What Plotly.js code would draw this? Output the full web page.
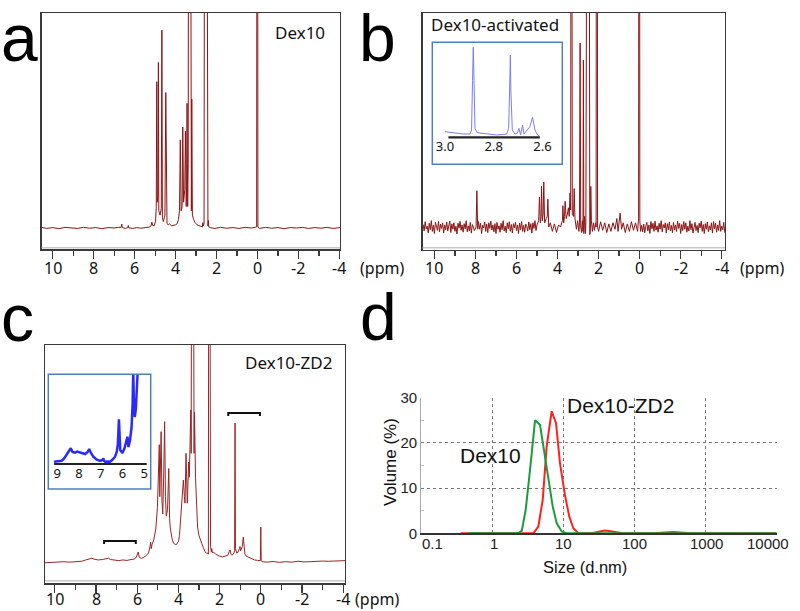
<!DOCTYPE html>
<html><head><meta charset="utf-8">
<script src="https://cdn.plot.ly/plotly-3.0.1.min.js"></script>
<style>html,body{margin:0;padding:0;background:#fff}#chart{width:800px;height:611px}</style>
</head><body><div id="chart"></div>
<script>
// ---------- Panel a : Dex10 1H NMR (ppm, relative intensity) ----------
const ppmA = [
 10.54,10.3,10.0,9.7,9.4,9.1,8.8,8.5,8.2,7.9,7.6,7.3,7.0,6.8,
 6.66,6.63,6.60,6.45,6.33,6.31,6.29,6.1,5.9,5.7,5.5,5.3,5.2,5.16,5.12,5.05,
 4.98,4.945,4.92,4.895,4.86,4.84,4.82,4.76,4.70,4.67,4.645,4.60,4.52,4.48,4.455,4.42,4.36,4.30,4.2,4.1,4.0,3.92,3.86,
 3.81,3.77,3.73,3.68,3.65,3.61,3.55,3.52,3.48,3.46,3.44,3.41,3.385,3.37,3.26,3.245,3.23,3.21,3.18,3.12,3.05,2.95,2.85,2.75,
 2.69,2.67,2.65,2.61,2.59,2.46,2.44,2.42,2.40,2.38,2.3,2.1,1.8,1.5,1.2,0.9,0.6,0.3,0.1,
 0.04,0.03,-0.01,-0.02,-0.1,-0.4,-0.7,-1.0,-1.3,-1.6,-1.9,-2.2,-2.5,-2.8,-3.1,-3.4,-3.7,-4.03
];
const intA = [
 0.003,-0.002,0.002,-0.003,0.003,0.0,-0.002,0.003,-0.001,0.002,-0.003,0.002,0.0,0.003,
 0.003,0.018,0.002,-0.002,0.002,0.012,0.001,-0.002,0.002,-0.001,0.003,0.004,0.01,0.027,0.012,0.01,
 0.03,0.10,0.68,0.12,0.15,0.77,0.08,0.06,0.09,0.92,0.05,0.03,0.06,0.63,0.04,0.02,0.015,0.02,0.01,0.012,0.015,0.02,0.04,
 0.08,0.41,0.08,0.10,0.47,0.12,0.18,0.45,0.10,0.20,0.58,0.10,0.30,1.6,1.6,0.25,0.08,0.60,0.06,0.04,0.025,0.015,0.01,0.008,
 0.005,0.025,0.01,0.02,1.6,1.6,0.02,0.01,0.035,0.005,0.002,-0.002,0.003,-0.001,0.002,-0.002,0.003,0.0,0.004,
 0.005,1.6,1.6,0.005,-0.002,0.003,-0.001,0.002,-0.003,0.002,0.0,0.003,-0.002,0.002,-0.001,0.003,-0.002,0.002
];

// ---------- Panel b : Dex10-activated (noisy baseline segments + peak region) ----------
const bLeftPpm = [
 10.55,10.50,10.45,10.40,10.35,10.30,10.25,10.20,10.15,10.10,
 10.05,10.00,9.95,9.90,9.85,9.80,9.75,9.70,9.65,9.60,
 9.55,9.50,9.45,9.40,9.35,9.30,9.25,9.20,9.15,9.10,
 9.05,9.00,8.95,8.90,8.85,8.80,8.75,8.70,8.65,8.60,
 8.55,8.50,8.45,8.40,8.35,8.30,8.25,8.20,8.15,8.10,
 8.05
];
const bLeftInt = [
 0.012,-0.018,0.025,-0.008,0.004,-0.027,0.018,-0.012,0.03,-0.02,
 0.008,-0.03,0.022,0.002,-0.015,0.026,-0.022,0.014,-0.006,0.02,
 -0.028,0.01,-0.012,0.024,-0.018,0.006,0.028,-0.025,0.015,-0.01,
 0.02,-0.02,0.004,-0.032,0.018,-0.005,0.027,-0.015,0.01,-0.024,
 0.016,-0.008,0.03,-0.022,0.006,-0.018,0.022,-0.028,0.012,0.0,
 -0.016
];
const bPeak8Ppm = [7.97, 7.93, 7.89];
const bPeak8Int = [0.0, 0.17, -0.01];
const bMidPpm = [
 7.85,7.80,7.75,7.70,7.65,7.60,7.55,7.50,7.45,7.40,
 7.35,7.30,7.25,7.20,7.15,7.10,7.05,7.00,6.95,6.90,
 6.85,6.80,6.75,6.70,6.65,6.60,6.55,6.50,6.45,6.40,
 6.35,6.30,6.25,6.20,6.15,6.10,6.05,6.00,5.95,5.90,
 5.85,5.80,5.75,5.70,5.65,5.60,5.55,5.50,5.45,5.40,
 5.35,5.30,5.25,5.20,5.15,5.10,5.05
];
const bMidInt = [
 0.026,-0.01,0.018,-0.03,0.008,-0.004,0.024,-0.02,0.014,
 -0.026,0.02,-0.006,0.028,-0.014,0.01,-0.022,0.016,-0.03,0.022,
 -0.01,0.006,-0.024,0.018,-0.012,0.03,-0.018,0.004,-0.026,0.02,
 -0.008,0.025,-0.02,0.012,-0.028,0.016,-0.004,0.022,-0.016,0.01,
 -0.03,0.018,-0.012,0.026,-0.02,0.008,-0.024,0.014,0.002,-0.018,
 0.024,-0.012,0.016,-0.028,0.02,-0.006,0.03,-0.016
];
const bPeakPpm = [
 5.0,4.92,4.88,4.84,4.80,4.78,4.74,4.70,4.67,4.63,4.55,4.50,4.47,4.43,4.35,4.25,4.15,4.05,3.95,3.85,3.80,
 3.76,3.74,3.70,3.66,3.63,3.58,3.52,3.47,3.43,3.39,3.36,3.345,3.30,3.28,3.22,3.19,3.15,3.08,3.02,2.96,2.93,2.90,2.87,2.83,2.79,2.76,2.74,2.72,2.68,2.64,2.62,2.575,2.45,2.43,2.40,2.38,2.35,2.30,2.25,2.20,2.15,2.12,2.11,2.06,2.05,2.0,1.9,1.8,1.7,1.6,1.5,1.4,1.3,1.2,1.11,1.05,0.95,0.88,0.8,0.7,0.6,0.5,0.4,0.3,0.2,0.1,0.05,0.04,0.0,-0.01,-0.05
];
const bPeakInt = [
 0.01,0.03,0.14,0.02,0.05,0.19,0.03,0.06,0.21,0.02,0.04,0.05,0.13,0.0,0.02,-0.02,0.015,-0.025,0.01,0.0,0.02,
 0.03,0.10,0.02,0.05,0.12,0.04,0.06,0.09,0.05,0.16,0.08,1.6,1.6,0.06,0.05,0.18,0.04,-0.01,0.03,-0.02,0.02,0.86,0.0,-0.025,0.03,-0.02,0.78,-0.03,0.05,-0.03,0.02,1.6,1.6,-0.035,-0.02,0.19,0.03,-0.02,0.02,-0.015,0.02,0.0,1.6,1.6,0.0,-0.02,0.025,-0.015,0.02,-0.025,0.015,-0.02,0.02,-0.01,0.04,-0.02,0.065,-0.01,0.02,-0.025,0.015,-0.02,0.025,-0.015,0.02,-0.02,0.04,1.6,1.6,0.03,-0.02
];
const bRightPpm = [
 -0.10,-0.15,-0.20,-0.25,-0.30,-0.35,-0.40,-0.45,-0.50,-0.55,
 -0.60,-0.65,-0.70,-0.75,-0.80,-0.85,-0.90,-0.95,-1.00,-1.05,
 -1.10,-1.15,-1.20,-1.25,-1.30,-1.35,-1.40,-1.45,-1.50,-1.55,
 -1.60,-1.65,-1.70,-1.75,-1.80,-1.85,-1.90,-1.95,-2.00,-2.05,
 -2.10,-2.15,-2.20,-2.25,-2.30,-2.35,-2.40,-2.45,-2.50,-2.55,
 -2.60,-2.65,-2.70,-2.75,-2.80,-2.85,-2.90,-2.95,-3.00,-3.05,
 -3.10,-3.15,-3.20,-3.25,-3.30,-3.35,-3.40,-3.45,-3.50,-3.55,
 -3.60,-3.65,-3.70,-3.75,-3.80,-3.85,-3.90,-3.95,-4.00,-4.05,
 -4.10,-4.15
];
const bRightInt = [
 0.008,-0.022,
 0.014,-0.026,0.004,0.022,-0.018,0.01,-0.03,0.026,-0.008,0.018,
 -0.02,0.028,-0.014,0.006,-0.024,0.018,-0.01,0.03,-0.022,0.012,
 -0.004,0.02,-0.028,0.016,-0.012,0.024,-0.018,0.008,-0.026,0.022,
 -0.014,0.01,-0.02,0.028,-0.006,0.018,-0.03,0.012,-0.016,0.026,
 -0.01,0.02,-0.024,0.004,-0.018,0.03,-0.012,0.016,-0.028,0.01,
 0.022,-0.016,0.008,-0.026,0.018,-0.004,0.028,-0.02,0.012,-0.03,
 0.016,-0.01,0.024,-0.022,0.006,-0.014,0.02,-0.028,0.026,-0.008,
 0.018,-0.024,0.01,-0.016,0.03,-0.02,0.004,-0.012,0.022,-0.026
];
const ppmB = [].concat(bLeftPpm, bPeak8Ppm, bMidPpm, bPeakPpm, bRightPpm);
const intB = [].concat(bLeftInt, bPeak8Int, bMidInt, bPeakInt, bRightInt);

// ---------- Panel c : Dex10-ZD2 ----------
const ppmC = [
 10.48,10.2,9.9,9.6,9.3,9.0,8.7,8.5,8.3,8.2,8.1,7.9,7.7,7.5,7.4,7.3,7.1,6.9,6.7,6.5,6.3,6.15,6.05,
 6.0,5.95,5.90,5.8,5.6,5.45,5.38,5.35,5.32,5.28,5.2,5.1,5.02,4.97,
 4.93,4.905,4.84,4.80,4.76,4.715,4.67,4.63,4.59,4.53,4.47,4.43,4.40,4.32,4.24,4.16,4.08,4.03,4.0,3.95,3.88,
 3.82,3.76,3.71,3.68,3.63,3.59,3.57,3.50,3.47,3.40,3.38,3.365,3.27,3.24,3.22,3.17,3.12,3.07,3.0,2.94,2.87,2.79,2.71,2.64,2.58,2.545,
 2.53,2.47,2.44,2.40,2.38,2.35,2.30,2.2,2.1,1.98,1.85,1.7,1.6,1.52,1.49,1.45,1.41,1.33,1.27,1.25,1.23,1.17,1.10,1.04,1.01,0.98,0.95,0.90,0.85,0.80,0.77,0.70,0.60,0.45,0.3,0.15,0.05,0.02,0.0,-0.02,-0.06,
 -0.3,-0.6,-0.9,-1.2,-1.5,-1.8,-2.1,-2.4,-2.7,-3.0,-3.3,-3.6,-3.9,-4.1
];
const intC = [
 -0.005,-0.003,-0.004,0.0,-0.002,0.0,0.002,0.008,0.014,0.016,0.012,0.008,0.01,0.012,0.016,0.01,0.006,0.005,0.008,0.006,0.01,0.012,0.02,
 0.035,0.045,0.02,0.015,0.025,0.04,0.07,0.09,0.06,0.08,0.10,0.15,0.25,0.45,
 0.54,0.30,0.60,0.28,0.22,0.40,0.646,0.30,0.21,0.24,0.43,0.20,0.16,0.11,0.085,0.08,0.08,0.09,0.092,0.12,0.2,
 0.28,0.377,0.30,0.27,0.50,0.30,0.27,0.46,0.39,0.70,0.5,1.6,1.6,0.5,0.69,0.39,0.22,0.16,0.12,0.10,0.085,0.065,0.046,0.04,0.04,0.035,
 1.6,1.6,0.07,0.045,0.06,0.04,0.045,0.035,0.03,0.025,0.022,0.025,0.03,0.05,0.054,0.035,0.03,0.035,0.05,0.64,0.06,0.04,0.045,0.06,0.07,0.05,0.055,0.07,0.113,0.05,0.035,0.025,0.02,0.012,0.008,0.006,0.004,0.005,0.16,0.004,0.0,
 -0.002,0.001,-0.003,0.0,-0.002,0.002,-0.001,0.0,0.002,0.003,0.002,0.004,0.003,0.005
];
// brackets marking regions in panel c (ppm span, level)
const bracketHighSpan = [1.58, 0.04], bracketHighLevel = [0.672, 0.686];
const bracketLowSpan  = [7.61, 6.07], bracketLowLevel  = [0.082, 0.096];

// ---------- Inset of b (2.6 - 3.0 ppm) ----------
const insetBppm = [3.000,2.966,2.925,2.898,2.891,2.887,2.884,2.881,2.877,2.868,2.829,2.788,2.747,2.739,2.735,2.732,2.730,2.724,2.713,2.704,2.697,2.690,2.682,2.676,2.652,2.641,2.631,2.621,2.613];
const insetBint = [5.6,4.6,3.3,3.3,7.3,57,90,57,9,4.6,3.3,2.3,3.3,9,47.3,82.3,47.3,7.3,3.3,4,9,2.3,12.3,3.3,10.6,20,7.3,2.3,1.3];
const insetBTicks = [3.0, 2.8, 2.6], insetBTickText = ['3.0','2.8','2.6'], insetBBaseSpan = [2.986, 2.611];

// ---------- Inset of c (5 - 9 ppm) ----------
const insetCppm = [9.15,9.0,8.8,8.7,8.57,8.45,8.38,8.30,8.18,8.08,7.95,7.85,7.72,7.60,7.53,7.45,7.34,7.20,7.03,6.92,6.88,6.84,6.80,6.65,6.57,6.45,6.34,6.26,6.21,6.16,6.12,6.10,6.00,5.90,5.77,5.72,5.65,5.58,5.53,5.50,5.47,5.43,5.38,5.34,5.31,5.29];
const insetCint = [2.3,2.5,3.3,5,9,13,15.7,12,11.3,12.5,11.7,10.5,10,12,15,11,7.3,4.5,3,4,5.7,3,2.3,2.5,2.3,4.5,7.3,12,20,44.7,18,14,11,16,27.3,17,24,36,60,95,60,47,55,70,95,95];
const insetCTicks = [9, 8, 7, 6, 5], insetCBaseSpan = [9.15, 4.88];

// ---------- Panel d : DLS size distribution by volume ----------
const dex10Size   = [0.46,2.32,2.6,2.95,3.39,3.99,4.69,5.34,6.14,7.08,8.06,9.47,11.0,10000];
const dex10Vol    = [0,0,0.6,5.2,14,25,24,18.5,12.6,5.9,2.2,0.4,0,0];
const dexZD2Size  = [0.36,3.77,4.44,5.12,5.82,6.84,7.87,8.95,10.5,12.1,13.8,16.2,25,29,33,38,44,51,59,68,190,220,255,295,342,396,459,531,615,10000];
const dexZD2Vol   = [0,0,1.5,7.4,19.3,27,24.4,15.5,8.5,3.7,1.1,0,0,0.2,0.45,0.6,0.5,0.3,0.1,0,0,0.1,0.2,0.3,0.3,0.25,0.15,0.05,0,0];
const dlsTicks    = [0.1, 1, 10, 100, 1000, 10000];
const dlsTickText = ['0.1','1','10','100','1000','10000'];
const dlsLabelShift = [11, 2, 0, 0, 1, -9];
const volTicks    = [0, 10, 20, 30];

// NMR axis ticks
const nmrTicks    = [10, 8, 6, 4, 2, 0, -2, -4];
const nmrTickText = ['10','8','6','4','2','0','-2','-4'];
const nmrMinor    = [9, 7, 5, 3, 1, -1, -3];

// ---------- helpers ----------
const W = 800, H = 611;
const fx = v => v / W, fy = v => 1 - v / H;
const NMR_FONT = 'Noto Sans, DejaVu Sans, sans-serif';
const ARIAL = 'Liberation Sans, Arial, sans-serif';

function nmrX(dom, range, anchor) {
  return {domain: dom, range: range, anchor: anchor, showline: true, mirror: true,
    linecolor: '#3a3a3a', linewidth: 1.3, ticks: 'outside', ticklen: 8, tickwidth: 1.2, tickcolor: '#3a3a3a',
    tickmode: 'array', tickvals: nmrTicks, showticklabels: false,
    minor: {tickmode: 'array', tickvals: nmrMinor, ticks: 'outside', ticklen: 5, tickcolor: '#3a3a3a', showgrid: false},
    showgrid: false, zeroline: false, fixedrange: true};
}
function nmrY(dom, range, anchor) {
  return {domain: dom, range: range, anchor: anchor, showline: true, mirror: true,
    linecolor: '#3a3a3a', linewidth: 1.3, ticks: '', showticklabels: false, showgrid: false, zeroline: false, fixedrange: true};
}

const NMR_RED = '#8b1515';
const traces = [
  {x: ppmA, y: intA, xaxis: 'x', yaxis: 'y', mode: 'lines', line: {color: NMR_RED, width: 1}, hoverinfo: 'skip'},
  {x: ppmB, y: intB, xaxis: 'x2', yaxis: 'y2', mode: 'lines', line: {color: NMR_RED, width: 1}, hoverinfo: 'skip'},
  {x: ppmC, y: intC, xaxis: 'x3', yaxis: 'y3', mode: 'lines', line: {color: '#9a2424', width: 1}, hoverinfo: 'skip'},
  {x: [bracketHighSpan[0], bracketHighSpan[0], bracketHighSpan[1], bracketHighSpan[1]],
   y: [bracketHighLevel[0], bracketHighLevel[1], bracketHighLevel[1], bracketHighLevel[0]],
   xaxis: 'x3', yaxis: 'y3', mode: 'lines', line: {color: '#111', width: 2}, hoverinfo: 'skip'},
  {x: [bracketLowSpan[0], bracketLowSpan[0], bracketLowSpan[1], bracketLowSpan[1]],
   y: [bracketLowLevel[0], bracketLowLevel[1], bracketLowLevel[1], bracketLowLevel[0]],
   xaxis: 'x3', yaxis: 'y3', mode: 'lines', line: {color: '#111', width: 2}, hoverinfo: 'skip'},
  {x: dexZD2Size, y: dexZD2Vol, xaxis: 'x4', yaxis: 'y4', mode: 'lines', line: {color: '#ff2020', width: 2}, hoverinfo: 'skip'},
  {x: dex10Size, y: dex10Vol, xaxis: 'x4', yaxis: 'y4', mode: 'lines', line: {color: '#1a9c3c', width: 2}, hoverinfo: 'skip'},
  {x: insetBppm, y: insetBint, xaxis: 'x5', yaxis: 'y5', mode: 'lines', line: {color: '#7b7bff', width: 1}, hoverinfo: 'skip'},
  {x: insetCppm, y: insetCint, xaxis: 'x6', yaxis: 'y6', mode: 'lines', line: {color: '#2a2aff', width: 2.5}, hoverinfo: 'skip'}
];

// tick-label annotations (placed like the reference)
const annotations = [];
function addNmrLabels(xref, yPix) {
  nmrTicks.forEach((v, i) => annotations.push({
    text: nmrTickText[i], x: v, xref: xref, y: fy(yPix), yref: 'paper',
    xanchor: 'center', yanchor: 'middle', showarrow: false, borderpad: 0,
    font: {family: NMR_FONT, size: 16, color: '#111'}}));
}
addNmrLabels('x', 268);
addNmrLabels('x2', 268);
addNmrLabels('x3', 599);
dlsTicks.forEach((v, i) => annotations.push({
  text: dlsTickText[i], x: Math.log10(v), xref: 'x4', y: fy(543), yref: 'paper', xshift: dlsLabelShift[i],
  xanchor: 'center', yanchor: 'middle', showarrow: false,
  font: {family: ARIAL, size: 15, color: '#222'}}));

const txt = (text, xp, yp, size, fam, extra) => Object.assign({text: text, x: fx(xp), y: fy(yp), xref: 'paper', yref: 'paper',
  xanchor: 'left', yanchor: 'middle', showarrow: false, borderpad: 0, font: {family: fam, size: size, color: '#111'}}, extra || {});
const LETTER = {font: {family: ARIAL, size: 66, color: '#000'}, borderpad: 0};
const LETTER_TOP = Object.assign({}, LETTER, {yanchor: 'top', y: 1});
annotations.push(
  txt('a', 0, 0, 66, ARIAL, LETTER_TOP),
  txt('b', 358, 0, 66, ARIAL, LETTER_TOP),
  txt('c', 0, 318, 66, ARIAL, LETTER),
  txt('d', 359, 317, 66, ARIAL, LETTER),
  txt('Dex10', 274, 33, 17, NMR_FONT),
  txt('Dex10-activated', 429.5, 25, 17, NMR_FONT),
  txt('Dex10-ZD2', 244, 362, 17, NMR_FONT),
  txt('(ppm)', 359, 268, 16, NMR_FONT),
  txt('(ppm)', 739, 268, 16, NMR_FONT),
  txt('(ppm)', 354, 599, 16, NMR_FONT),
  txt('Dex10-ZD2', 566, 405, 21, ARIAL),
  txt('Dex10', 459, 455.5, 21, ARIAL),
  txt('Size (d.nm)', 585, 566.7, 16.5, ARIAL, {xanchor: 'center'}),
  txt('Volume (%)', 390, 462, 17, ARIAL, {xanchor: 'center', textangle: -90})
);

const layout = {
  width: W, height: H, margin: {l: 0, r: 0, t: 0, b: 0}, showlegend: false,
  paper_bgcolor: '#fff', plot_bgcolor: 'rgba(0,0,0,0)',
  xaxis:  nmrX([fx(41.7), fx(340)], [10.54, -4.03], 'y'),
  yaxis:  nmrY([fy(249.3), fy(13)], [-0.099, 1], 'x'),
  xaxis2: nmrX([fx(422.7), fx(725)], [10.57, -4.16], 'y2'),
  yaxis2: nmrY([fy(250), fy(13)], [-0.107, 1], 'x2'),
  xaxis3: nmrX([fx(45), fx(345)], [10.48, -4.09], 'y3'),
  yaxis3: nmrY([fy(583.3), fy(345)], [-0.0997, 1], 'x3'),
  xaxis4: {domain: [fx(421.2), fx(776.7)], type: 'log', range: [-1, 4], anchor: 'y4',
    tickmode: 'array', tickvals: dlsTicks, showticklabels: false, ticks: '',
    showgrid: true, gridcolor: '#777', griddash: 'dot', gridwidth: 1,
    showline: true, linecolor: '#333', linewidth: 1.5, zeroline: false, fixedrange: true},
  yaxis4: {domain: [fy(533.3), fy(397.7)], range: [0, 30], anchor: 'x4',
    tickmode: 'array', tickvals: volTicks, ticks: '',
    showgrid: true, gridcolor: '#777', griddash: 'dot', gridwidth: 1,
    showline: true, linecolor: '#aaa', linewidth: 1, zeroline: false,
    minor: {tickmode: 'array', tickvals: [5, 15, 25], ticks: 'inside', ticklen: 3, tickcolor: '#bbb', showgrid: false},
    tickfont: {family: ARIAL, size: 15, color: '#222'}, fixedrange: true},
  xaxis5: {domain: [fx(432.3), fx(562.3)], range: [3.052, 2.519], anchor: 'y5',
    tickmode: 'array', tickvals: insetBTicks, ticktext: insetBTickText, ticks: '',
    showline: false, showgrid: false, zeroline: false,
    tickfont: {family: NMR_FONT, size: 13, color: '#111'}, fixedrange: true},
  yaxis5: {domain: [fy(137.3), fy(42.3)], range: [0, 95], anchor: 'x5', visible: false, fixedrange: true},
  xaxis6: {domain: [fx(48.3), fx(150.7)], range: [9.415, 4.696], anchor: 'y6',
    tickmode: 'array', tickvals: insetCTicks, ticks: '',
    showline: false, showgrid: false, zeroline: false,
    tickfont: {family: NMR_FONT, size: 13, color: '#111'}, fixedrange: true},
  yaxis6: {domain: [fy(464), fy(374.3)], range: [0, 89.7], anchor: 'x6', visible: false, fixedrange: true},
  shapes: [
    {type: 'line', xref: 'x domain', yref: 'y', x0: 0, x1: 1, y0: -0.092, y1: -0.092, line: {color: '#c8c8c8', width: 1.5}},
    {type: 'line', xref: 'x2 domain', yref: 'y2', x0: 0, x1: 1, y0: -0.097, y1: -0.097, line: {color: '#c8c8c8', width: 1.5}},
    {type: 'line', xref: 'x3 domain', yref: 'y3', x0: 0, x1: 1, y0: -0.088, y1: -0.088, line: {color: '#c8c8c8', width: 1.5}},
    {type: 'rect', xref: 'paper', yref: 'paper', x0: fx(432.3), x1: fx(562.3), y0: fy(164.3), y1: fy(42.3), line: {color: '#4f7fbf', width: 1.5}, layer: 'above'},
    {type: 'rect', xref: 'paper', yref: 'paper', x0: fx(48.3), x1: fx(150.7), y0: fy(489), y1: fy(374.3), line: {color: '#4f7fbf', width: 1.5}, layer: 'above'},
    {type: 'line', xref: 'x5', yref: 'y5 domain', x0: insetBBaseSpan[0], x1: insetBBaseSpan[1], y0: 0, y1: 0, line: {color: '#222', width: 2.2}},
    {type: 'line', xref: 'x6', yref: 'y6 domain', x0: insetCBaseSpan[0], x1: insetCBaseSpan[1], y0: 0, y1: 0, line: {color: '#222', width: 2.2}}
  ],
  annotations: annotations
};

Plotly.newPlot('chart', traces, layout, {staticPlot: true, displayModeBar: false});
</script>
</body></html>
